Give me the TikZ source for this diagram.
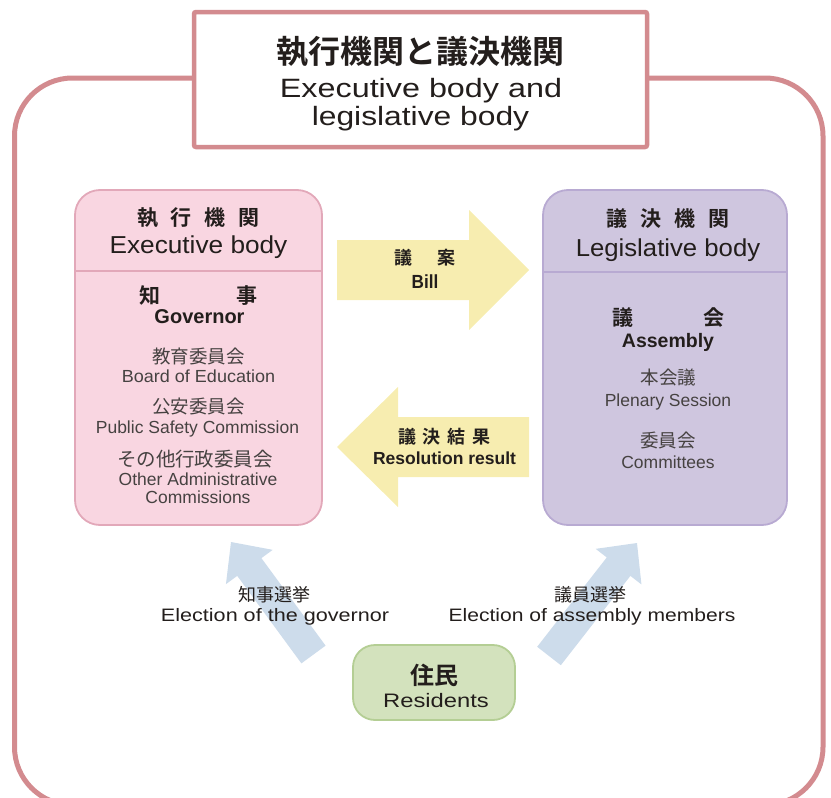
\documentclass[tikz,border=0pt]{standalone}
\usepackage{fontspec}
\setmainfont{Liberation Sans}
\newfontfamily\jp{Noto Sans CJK JP}[BoldFont={Noto Sans CJK JP Bold}]
\usetikzlibrary{calc}
\definecolor{frame}{RGB}{211,139,143}
\definecolor{pinkfill}{RGB}{249,214,225}
\definecolor{pinkline}{RGB}{226,168,185}
\definecolor{purfill}{RGB}{207,198,223}
\definecolor{purline}{RGB}{184,170,210}
\definecolor{yel}{RGB}{247,237,176}
\definecolor{blu}{RGB}{205,220,235}
\definecolor{grnfill}{RGB}{211,226,189}
\definecolor{grnline}{RGB}{180,206,148}
\definecolor{ink}{RGB}{35,30,28}
\definecolor{gr}{RGB}{70,66,65}
\newcommand\fs[1]{\fontsize{#1}{#1}\selectfont}
\newcommand\hs[2]{\scalebox{#1}[1]{#2}}
\begin{document}
\begin{tikzpicture}[x=1pt,y=-1pt,
  every node/.style={inner sep=0pt, outer sep=0pt, text=ink},
  lat/.style={anchor=base},
  grt/.style={text=gr},
  bodybox/.style={draw, line width=1.8pt, rounded corners=25pt},
]
\useasboundingbox (0,0) rectangle (831,798);
\begin{scope}
\clip (0,0) rectangle (831,798);
\draw[line width=5pt, draw=frame, rounded corners=58pt] (14.5,78) rectangle (823,805);
\end{scope}

% title box
\node[draw=frame, line width=4.5pt, fill=white, minimum width=453pt, minimum height=135pt, rounded corners=2pt] (title) at (420.5,79.5) {};
\node[font=\jp\bfseries\fs{32}] (t1) at (420.5,52) {執行機関と議決機関};
\node[lat, font=\fs{26.5}] (t2) at (421,97) {\hs{1.22}{Executive body and}};
\node[lat, font=\fs{26.5}] (t3) at (420.5,125) {\hs{1.2}{legislative body}};

% executive box
\node[bodybox, draw=pinkline, fill=pinkfill, minimum width=247pt, minimum height=335pt] (exe) at (198.5,357.5) {};
\coordinate (exediv) at (0,271);
\draw[pinkline, line width=1.8pt] (exe.west |- exediv) -- (exe.east |- exediv);

% legislative box
\node[bodybox, draw=purline, fill=purfill, minimum width=244pt, minimum height=335pt] (leg) at (665,357.5) {};
\coordinate (legdiv) at (0,272);
\draw[purline, line width=1.8pt] (leg.west |- legdiv) -- (leg.east |- legdiv);

% yellow arrows
\coordinate (billtip) at (529,270);
\coordinate (restip) at (337,447);
\fill[yel] (337,240) -- (469,240) -- (469,210) -- (billtip) -- (469,330) -- (469,300) -- (337,300) -- cycle;
\fill[yel] (529,417) -- (398,417) -- (398,387) -- (restip) -- (398,507) -- (398,477) -- (529,477) -- cycle;

% residents box
\node[draw=grnline, line width=1.8pt, fill=grnfill, rounded corners=22pt, minimum width=162pt, minimum height=75pt] (res) at (434,682.5) {};

% blue arrows
\coordinate (gT) at (313.5,654.5);
\coordinate (gP) at (231,542);
\coordinate (gH) at ($(gP)!31pt!(gT)$);
\fill[blu] ($(gT)!15pt!90:(gP)$) -- ($(gH)!15pt!-90:(gT)$) -- ($(gH)!29pt!-90:(gT)$) -- (gP) -- ($(gH)!29pt!90:(gT)$) -- ($(gH)!15pt!90:(gT)$) -- ($(gT)!15pt!-90:(gP)$) -- cycle;
\coordinate (aT) at (549,656);
\coordinate (aP) at (637,543);
\coordinate (aH) at ($(aP)!30pt!(aT)$);
\fill[blu] ($(aT)!15pt!90:(aP)$) -- ($(aH)!15pt!-90:(aT)$) -- ($(aH)!29pt!-90:(aT)$) -- (aP) -- ($(aH)!29pt!90:(aT)$) -- ($(aH)!15pt!90:(aT)$) -- ($(aT)!15pt!-90:(aP)$) -- cycle;

% executive texts
\node[font=\jp\bfseries\fs{21}] (e1) at (198.5,218) {執\hspace{13pt}行\hspace{13pt}機\hspace{13pt}関};
\node[lat, font=\fs{24.5}] (e2) at (198.5,253) {\hs{1.07}{Executive body}};
\node[font=\jp\bfseries\fs{21}] (e3) at (198.5,296) {知\hspace{76pt}事};
\node[lat, font=\bfseries\fs{20}] (e4) at (199.5,323) {Governor};
\node[grt, font=\jp\fs{18.5}] (e5) at (198.5,356.5) {教育委員会};
\node[lat, grt, font=\fs{17.5}] (e6) at (198.5,382) {\hs{1.03}{Board of Education}};
\node[grt, font=\jp\fs{18.5}] (e7) at (198.5,407) {公安委員会};
\node[lat, grt, font=\fs{17.5}] (e8) at (197.5,433) {Public Safety Commission};
\node[grt, font=\jp\fs{19.5}] (e9) at (195,459.5) {その他行政委員会};
\node[lat, grt, font=\fs{17.5}] (e10) at (198,485) {Other Administrative};
\node[lat, grt, font=\fs{17.5}] (e11) at (198,503) {Commissions};

% legislative texts
\node[font=\jp\bfseries\fs{21}] (l1) at (668,219) {議\hspace{13pt}決\hspace{13pt}機\hspace{13pt}関};
\node[lat, font=\fs{24.5}] (l2) at (668,256) {\hs{1.05}{Legislative body}};
\node[font=\jp\bfseries\fs{21}] (l3) at (668.5,318) {議\hspace{70pt}会};
\node[lat, font=\bfseries\fs{19.5}] (l4) at (668,347) {Assembly};
\node[grt, font=\jp\fs{18.5}] (l5) at (668.5,378) {本会議};
\node[lat, grt, font=\fs{17.5}] (l6) at (668,406) {Plenary Session};
\node[grt, font=\jp\fs{18.5}] (l7) at (668,441) {委員会};
\node[lat, grt, font=\fs{17.5}] (l8) at (668,468) {Committees};

% arrow texts
\node[font=\jp\bfseries\fs{18}] (b1) at (425,258) {議\hspace{26pt}案};
\node[lat, font=\bfseries\fs{19}] (b2) at (425,288) {\hs{0.9}{Bill}};
\node[font=\jp\bfseries\fs{18}] (r1) at (444.5,437) {議\hspace{7pt}決\hspace{7pt}結\hspace{7pt}果};
\node[lat, font=\bfseries\fs{17.5}] (r2) at (444.5,464) {Resolution result};

% residents texts
\node[font=\jp\bfseries\fs{24}] (res1) at (434,675) {住民};
\node[lat, font=\fs{19.5}] (res2) at (436,707) {\hs{1.22}{Residents}};

% election texts
\node[font=\jp\fs{18}] (g1) at (274,595) {知事選挙};
\node[lat, font=\fs{18}] (g2) at (275,621) {\hs{1.2}{Election of the governor}};
\node[font=\jp\fs{18}] (a1) at (590.5,595) {議員選挙};
\node[lat, font=\fs{18}] (a2) at (592,621) {\hs{1.17}{Election of assembly members}};
\end{tikzpicture}
\end{document}
